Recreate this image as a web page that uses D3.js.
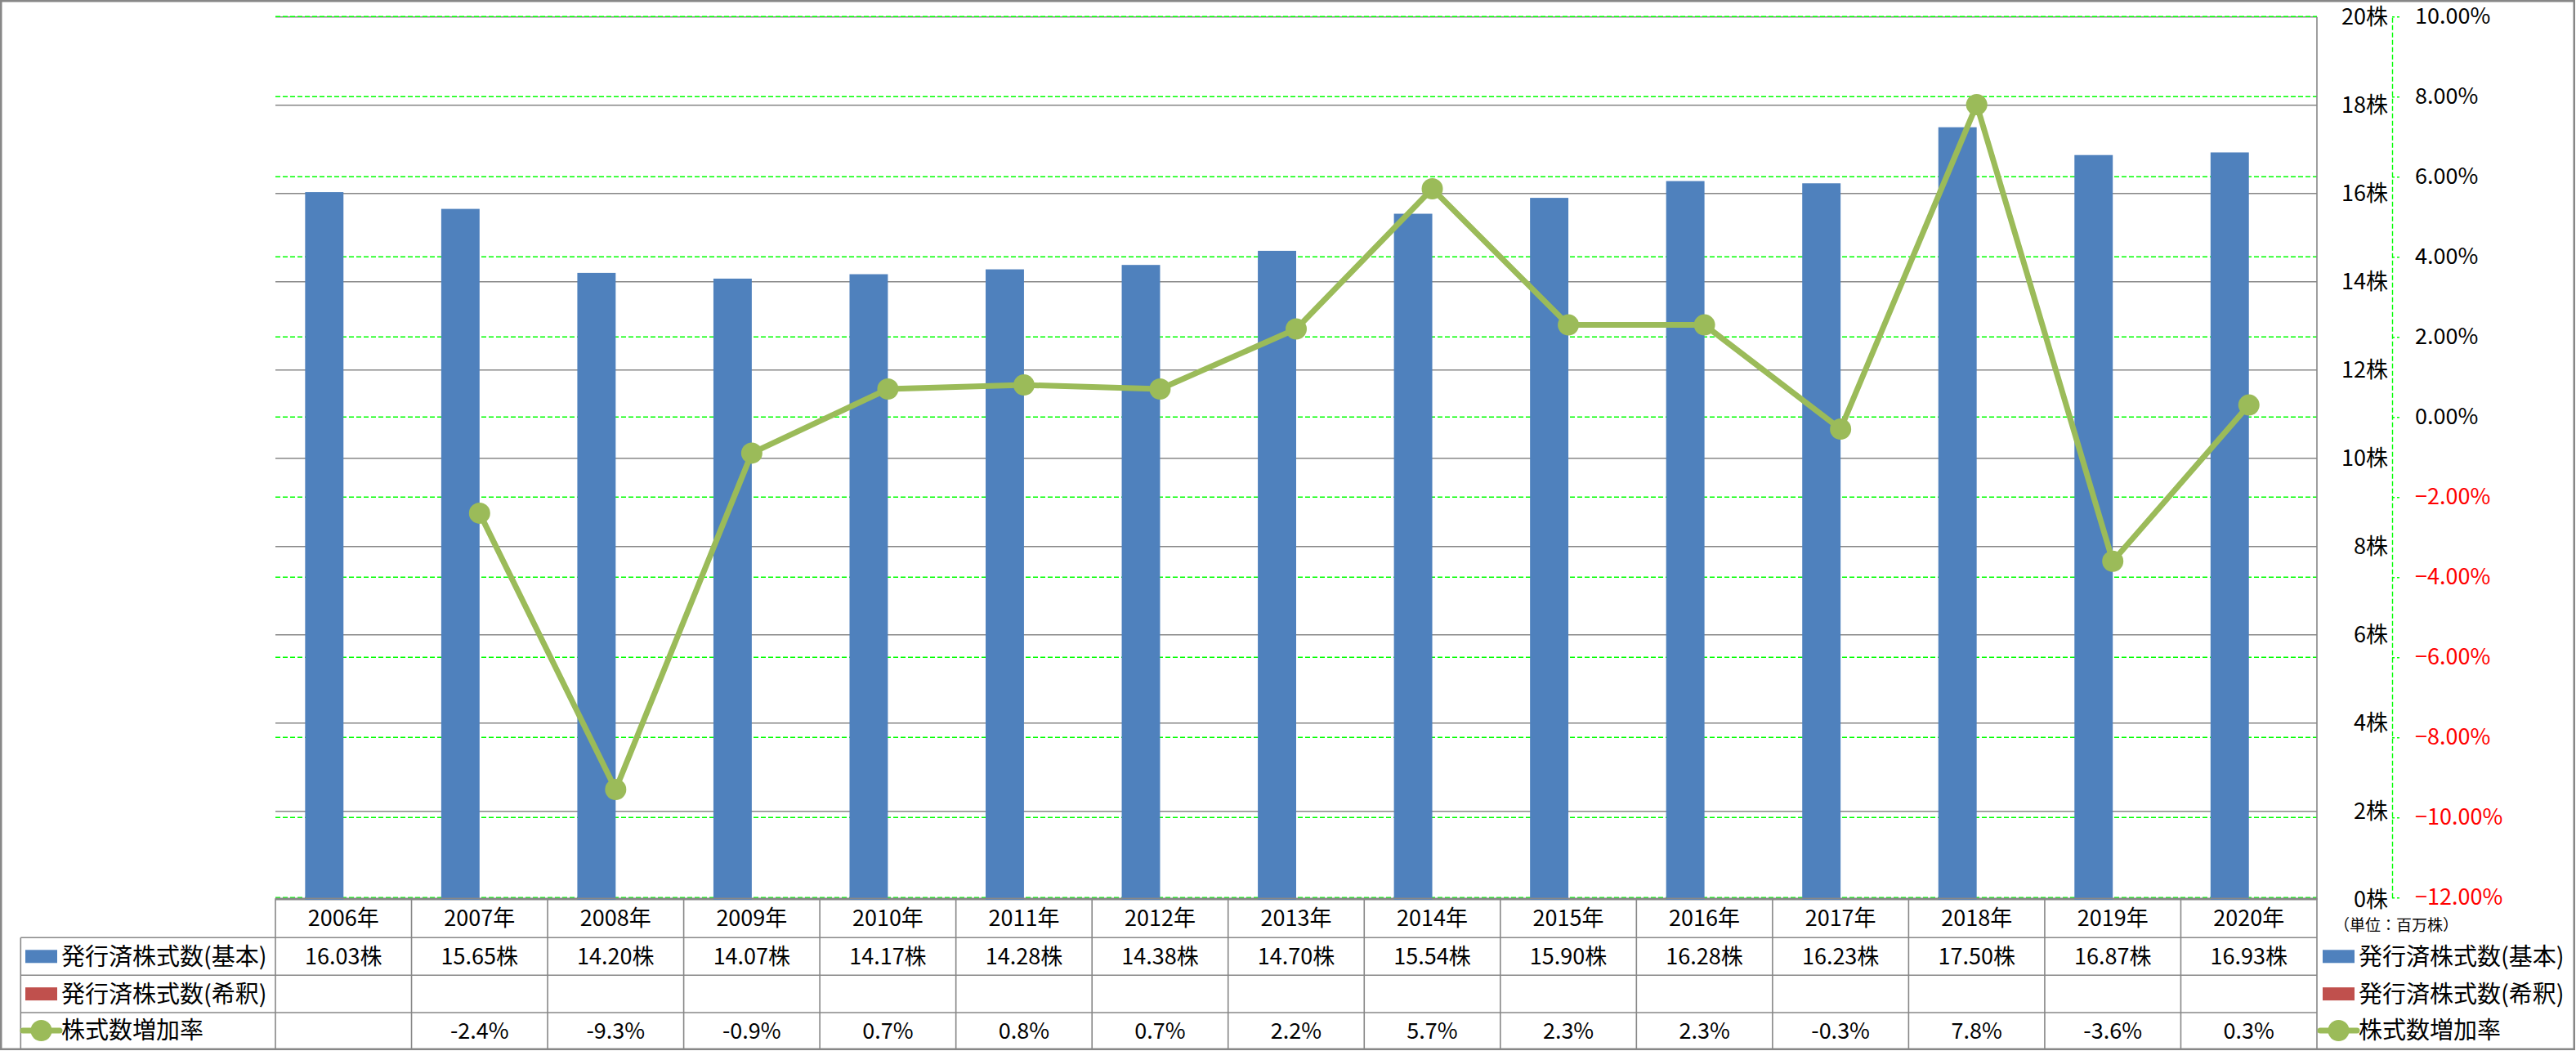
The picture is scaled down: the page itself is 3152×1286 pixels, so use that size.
<!DOCTYPE html>
<html><head><meta charset="utf-8">
<script src="https://cdn.jsdelivr.net/npm/d3@7"></script>
<style>
html,body{margin:0;padding:0;background:#fff;}
svg{display:block;font-family:"Noto Sans CJK JP","Noto Sans",sans-serif;}
</style></head><body>
<svg id="c" width="3152" height="1286"></svg>
<script>
const years = ["2006年","2007年","2008年","2009年","2010年","2011年","2012年","2013年","2014年","2015年","2016年","2017年","2018年","2019年","2020年"];
const sharesBasic = [16.03,15.65,14.20,14.07,14.17,14.28,14.38,14.70,15.54,15.90,16.28,16.23,17.50,16.87,16.93];
const sharesDiluted = [null,null,null,null,null,null,null,null,null,null,null,null,null,null,null];
const growthRate = [null,-2.4,-9.3,-0.9,0.7,0.8,0.7,2.2,5.7,2.3,2.3,-0.3,7.8,-3.6,0.3];
const leftTicks = [0,2,4,6,8,10,12,14,16,18,20];
const rightTicks = [-12,-10,-8,-6,-4,-2,0,2,4,6,8,10];
const seriesNames = ["発行済株式数(基本)","発行済株式数(希釈)","株式数増加率"];
const unitLabel = "（単位：百万株）";

const C_BLUE="#4F81BD", C_RED="#C0504D", C_GREEN="#9BBB59", C_GRID="#878787", C_DASH="#00FF00";
const svg = d3.select("#c");
const X0=337, X1=2835;
const x = d3.scaleBand().domain(years).range([X0,X1]).padding(0);
const xs = d3.scaleBand().domain(["b","d"]).range([0,x.bandwidth()]).paddingInner(0).paddingOuter(0.775);
const y1 = d3.scaleLinear().domain([0,20]).range([1100.7,20.7]);
const y2 = d3.scaleLinear().domain([-12,10]).range([1098.3,20.3]);

// grey gridlines (primary)
svg.append("g").selectAll("line").data(leftTicks).join("line")
  .attr("x1",X0).attr("x2",X1).attr("y1",d=>y1(d)).attr("y2",d=>y1(d))
  .attr("stroke",C_GRID).attr("stroke-width",1.6);
// green dashed gridlines (secondary)
svg.append("g").selectAll("line").data(rightTicks).join("line")
  .attr("x1",X0).attr("x2",X1).attr("y1",d=>y2(d)).attr("y2",d=>y2(d))
  .attr("stroke",C_DASH).attr("stroke-width",1.4).attr("stroke-dasharray","6,3");

// bars
svg.append("g").selectAll("rect").data(sharesBasic).join("rect")
  .attr("x",(d,i)=>x(years[i])+xs("b")).attr("width",xs.bandwidth())
  .attr("y",d=>y1(d)).attr("height",d=>y1(0)-y1(d)).attr("fill",C_BLUE);
svg.append("g").selectAll("rect").data(sharesDiluted.filter(d=>d!=null)).join("rect")
  .attr("fill",C_RED);

// primary axis line (right side of plot)
svg.append("line").attr("x1",X1).attr("x2",X1).attr("y1",y1(20)).attr("y2",y1(0))
  .attr("stroke",C_GRID).attr("stroke-width",1.6);

// primary axis labels
const axL = d3.axisLeft(y1).tickValues(leftTicks).tickFormat(d=>d+"株").tickSize(0).tickPadding(8);
const gL = svg.append("g").attr("transform","translate(2930,0)").call(axL);
gL.select(".domain").remove();
gL.selectAll("text").attr("font-size",27).attr("fill","#000").attr("font-family","'Noto Sans CJK JP'");

// secondary axis
const axR = d3.axisRight(y2).tickValues(rightTicks).tickFormat(d=>d3.format(".2f")(d)+"%").tickSizeInner(9).tickSizeOuter(0).tickPadding(19);
const gR = svg.append("g").attr("transform","translate(2927,0)").call(axR);
gR.select(".domain").attr("stroke",C_DASH).attr("stroke-width",1.4).attr("stroke-dasharray","6,3");
gR.selectAll(".tick line").attr("stroke",C_DASH).attr("stroke-width",1.4).attr("stroke-dasharray","3,3");
gR.selectAll("text").attr("font-size",27).attr("fill",d=>d<0?"#FF0000":"#000").attr("font-family","'Noto Sans CJK JP'");

// line series
const pts = growthRate.map((v,i)=>({v,i}));
const line = d3.line().defined(d=>d.v!=null).x(d=>x(years[d.i])+x.bandwidth()/2).y(d=>y2(d.v));
svg.append("path").datum(pts).attr("d",line).attr("fill","none").attr("stroke",C_GREEN)
  .attr("stroke-width",7).attr("stroke-linejoin","round");
svg.append("g").selectAll("circle").data(pts.filter(d=>d.v!=null)).join("circle")
  .attr("cx",d=>x(years[d.i])+x.bandwidth()/2).attr("cy",d=>y2(d.v)).attr("r",13).attr("fill",C_GREEN);

// data table
const T0=1099.3, R1=1147.3, R2=1193.3, R3=1239, TB=1283;
const LX=25.3;
const tg = svg.append("g").attr("stroke",C_GRID).attr("stroke-width",1.6);
tg.append("line").attr("x1",X0).attr("x2",X1).attr("y1",T0).attr("y2",T0);
[R1,R2,R3].forEach(yy=>tg.append("line").attr("x1",LX).attr("x2",X1).attr("y1",yy).attr("y2",yy));
tg.append("line").attr("x1",LX).attr("x2",LX).attr("y1",R1).attr("y2",TB);
tg.selectAll(".v").data(d3.range(years.length+1)).join("line").attr("class","v")
  .attr("x1",i=>X0+i*x.step()).attr("x2",i=>X0+i*x.step()).attr("y1",T0).attr("y2",TB);

const txt = svg.append("g").attr("font-size",27).attr("fill","#000").attr("text-anchor","middle");
const cx = i=>x(years[i])+x.bandwidth()/2;
txt.selectAll(".yr").data(years).join("text").attr("class","yr")
  .attr("x",(d,i)=>cx(i)).attr("y",(T0+R1)/2).attr("dy","0.36em").text(d=>d);
txt.selectAll(".b").data(sharesBasic).join("text").attr("class","b")
  .attr("x",(d,i)=>cx(i)).attr("y",(R1+R2)/2).attr("dy","0.36em").text(d=>d.toFixed(2)+"株");
txt.selectAll(".g").data(pts.filter(d=>d.v!=null)).join("text").attr("class","g")
  .attr("x",d=>cx(d.i)).attr("y",(R3+TB)/2).attr("dy","0.36em").text(d=>d.v.toFixed(1)+"%");

// legend keys
function legend(x0, tx) {
  const g = svg.append("g");
  const rows = [(R1+R2)/2,(R2+R3)/2,(R3+TB)/2];
  g.append("rect").attr("x",x0).attr("y",rows[0]-8).attr("width",39).attr("height",16).attr("fill",C_BLUE);
  g.append("rect").attr("x",x0).attr("y",rows[1]-8).attr("width",39).attr("height",16).attr("fill",C_RED);
  g.append("line").attr("x1",x0-3).attr("x2",x0+42).attr("y1",rows[2]).attr("y2",rows[2]).attr("stroke",C_GREEN).attr("stroke-width",7).attr("stroke-linecap","round");
  g.append("circle").attr("cx",x0+19.5).attr("cy",rows[2]).attr("r",13).attr("fill",C_GREEN);
  g.selectAll("text").data(seriesNames).join("text").attr("x",tx).attr("y",(d,i)=>rows[i]).attr("dy","0.36em")
    .attr("font-size",29).attr("fill","#000").text(d=>d);
}
legend(31, 75);
legend(2842, 2886);

svg.append("text").attr("x",2856).attr("y",1132).attr("dy","0.36em").attr("font-size",19).attr("fill","#000").text(unitLabel);

// outer border
svg.append("rect").attr("x",1.25).attr("y",1.25).attr("width",3148.5).attr("height",1282.5)
  .attr("fill","none").attr("stroke",C_GRID).attr("stroke-width",2.5);
</script>
</body></html>
